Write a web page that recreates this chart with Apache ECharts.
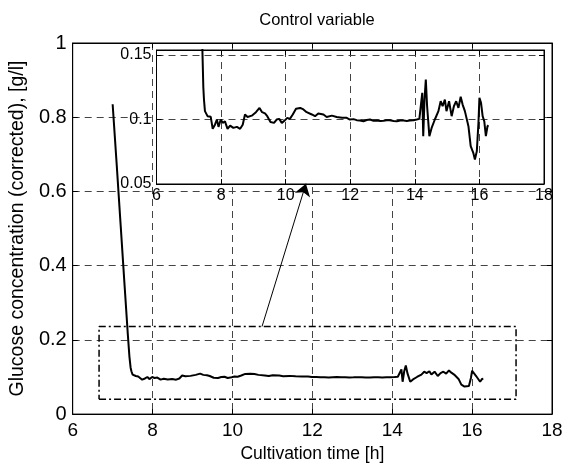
<!DOCTYPE html>
<html>
<head>
<meta charset="utf-8">
<script src="https://cdn.jsdelivr.net/npm/echarts@6/dist/echarts.min.js"></script>
<style>html,body{margin:0;padding:0;background:#fff}#chart{width:566px;height:468px}</style>
</head>
<body>
<div id="chart"></div>
<script>
// Cultivation time [h]
const time = [7.00,7.10,7.20,7.30,7.38,7.42,7.45,7.47,7.50,7.58,7.64,7.68,7.74,7.81,7.87,7.92,7.99,8.05,8.12,8.20,8.28,8.38,8.49,8.59,8.67,8.74,8.82,8.95,9.08,9.19,9.27,9.36,9.43,9.53,9.64,9.72,9.80,9.88,9.98,10.05,10.13,10.22,10.32,10.45,10.55,10.65,10.81,10.91,11.01,11.17,11.27,11.43,11.58,11.74,11.89,11.99,12.10,12.20,12.30,12.41,12.51,12.61,12.72,12.82,12.93,13.03,13.13,13.23,13.34,13.44,13.55,13.65,13.75,13.85,13.96,14.06,14.14,14.18,14.23,14.26,14.30,14.34,14.38,14.45,14.52,14.62,14.73,14.80,14.86,14.93,14.98,15.06,15.14,15.21,15.28,15.35,15.42,15.48,15.55,15.60,15.66,15.73,15.81,15.86,15.92,15.97,16.00,16.05,16.10,16.15,16.20,16.25,16.28];
// Glucose concentration (corrected) [g/l]
const glucose = [0.835,0.675,0.51,0.345,0.215,0.155,0.125,0.1155,0.1065,0.1026,0.1013,0.1021,0.0928,0.0960,0.1000,0.0943,0.1000,0.0974,0.0985,0.0928,0.0953,0.0935,0.0943,0.0928,0.0960,0.1039,0.1020,0.1030,0.1057,0.1090,0.1057,0.1047,0.1026,0.0980,0.0974,0.1000,0.1005,0.0974,0.0995,0.1013,0.1005,0.1039,0.1083,0.1090,0.1078,0.1057,0.1039,0.1026,0.1047,0.1039,0.1020,0.1030,0.1020,0.1013,0.1013,0.1000,0.1003,0.0995,0.0992,0.0987,0.0996,0.1000,0.0990,0.0992,0.0988,0.0990,0.0994,0.0995,0.0989,0.0987,0.0993,0.0992,0.0989,0.0992,0.0995,0.1000,0.1005,0.1000,0.1207,0.0871,0.1155,0.1310,0.1103,0.0871,0.0935,0.1000,0.1065,0.1142,0.1103,0.1155,0.1065,0.1142,0.1026,0.1103,0.1142,0.1090,0.1176,0.1116,0.1065,0.1080,0.0948,0.0793,0.0742,0.0690,0.0755,0.0974,0.1168,0.1129,0.1026,0.0987,0.0871,0.0948,0.0955];
// Zoom box (time range, concentration range)
const boxTime = [6.66, 17.1];
const boxConc = [0.04, 0.236];
// Arrow from zoom box to inset
const arrowStart = [10.74, 0.236];
const arrowEnd = [11.84, 0.621];
// Axis ranges [min, max, interval]
const mainX = [6, 18, 2];
const mainY = [0, 1, 0.2];
const insetX = [6, 18, 2];
const insetY = [0.05, 0.1539, 0.05];

const series = time.map((t, i) => [t, glucose[i]]);
const boxPath = [[boxTime[0], boxConc[0]], [boxTime[1], boxConc[0]], [boxTime[1], boxConc[1]], [boxTime[0], boxConc[1]], [boxTime[0], boxConc[0]]];

const FONT = 'Liberation Sans, Arial, sans-serif';
const gridLine = {show: true, lineStyle: {color: '#444', width: 1, type: [7, 5]}};
const axLine = {show: true, onZero: false, lineStyle: {color: '#000', width: 1}};
const tick = {show: true, inside: true, length: 5, lineStyle: {color: '#000'}};

function mirror(gridIndex, pos, rng, z) {
  return {type: 'value', gridIndex, position: pos, min: rng[0], max: rng[1], interval: rng[2], z,
    axisLine: axLine, axisTick: tick, axisLabel: {show: false}, splitLine: {show: false}};
}

const chart = echarts.init(document.getElementById('chart'), null, {renderer: 'canvas'});
chart.setOption({
  animation: false,
  backgroundColor: '#fff',
  title: {text: 'Control variable', left: 312, top: 7, textAlign: 'center',
    textStyle: {fontFamily: FONT, fontSize: 16.5, fontWeight: 'normal', color: '#000'}},
  grid: [
    {left: 72.5, top: 43, width: 479.5, height: 372, show: true, borderColor: '#000', borderWidth: 1, z: 0},
    {left: 156.5, top: 50, width: 387.5, height: 134, show: true, borderColor: '#000', borderWidth: 1, backgroundColor: '#fff', z: 3}
  ],
  xAxis: [
    {type: 'value', gridIndex: 0, position: 'bottom', min: mainX[0], max: mainX[1], interval: mainX[2], z: 0,
      name: 'Cultivation time [h]', nameLocation: 'middle', nameGap: 30,
      nameTextStyle: {fontFamily: FONT, fontSize: 17.5, color: '#000'},
      axisLine: axLine, axisTick: tick, splitLine: gridLine,
      axisLabel: {fontFamily: FONT, fontSize: 19, color: '#000', margin: 7}},
    mirror(0, 'top', mainX, 0),
    {type: 'value', gridIndex: 1, position: 'bottom', min: insetX[0], max: insetX[1], interval: insetX[2], z: 4,
      axisLine: axLine, axisTick: tick, splitLine: gridLine,
      axisLabel: {fontFamily: FONT, fontSize: 16, color: '#000', margin: 4}},
    mirror(1, 'top', insetX, 4)
  ],
  yAxis: [
    {type: 'value', gridIndex: 0, position: 'left', min: mainY[0], max: mainY[1], interval: mainY[2], z: 0,
      name: 'Glucose concentration (corrected), [g/l]', nameLocation: 'middle', nameGap: 43,
      nameTextStyle: {fontFamily: FONT, fontSize: 19.5, color: '#000'},
      axisLine: axLine, axisTick: tick, splitLine: gridLine,
      axisLabel: {fontFamily: FONT, fontSize: 20, color: '#000', margin: 6}},
    mirror(0, 'right', mainY, 0),
    {type: 'value', gridIndex: 1, position: 'left', min: insetY[0], max: insetY[1], interval: insetY[2], z: 4,
      axisLine: axLine, axisTick: tick, splitLine: gridLine,
      axisLabel: {fontFamily: FONT, fontSize: 16, color: '#000', margin: 5, showMaxLabel: false}},
    mirror(1, 'right', insetY, 4)
  ],
  series: [
    {type: 'line', xAxisIndex: 0, yAxisIndex: 0, data: series, showSymbol: false, symbol: 'none', z: 2,
      lineStyle: {color: '#000', width: 2}},
    {type: 'line', xAxisIndex: 0, yAxisIndex: 0, data: boxPath, showSymbol: false, symbol: 'none', z: 2,
      lineStyle: {color: '#000', width: 1.5, type: [7, 3, 2, 3]}},
    {type: 'lines', coordinateSystem: 'cartesian2d', xAxisIndex: 0, yAxisIndex: 0, z: 10,
      symbol: ['none', 'arrow'], symbolSize: [7, 12],
      lineStyle: {color: '#000', width: 1, opacity: 1},
      data: [{coords: [arrowStart, arrowEnd]}]},
    {type: 'line', xAxisIndex: 2, yAxisIndex: 2, data: series, showSymbol: false, symbol: 'none', z: 6, clip: true,
      lineStyle: {color: '#000', width: 2}}
  ]
});
</script>
</body>
</html>
